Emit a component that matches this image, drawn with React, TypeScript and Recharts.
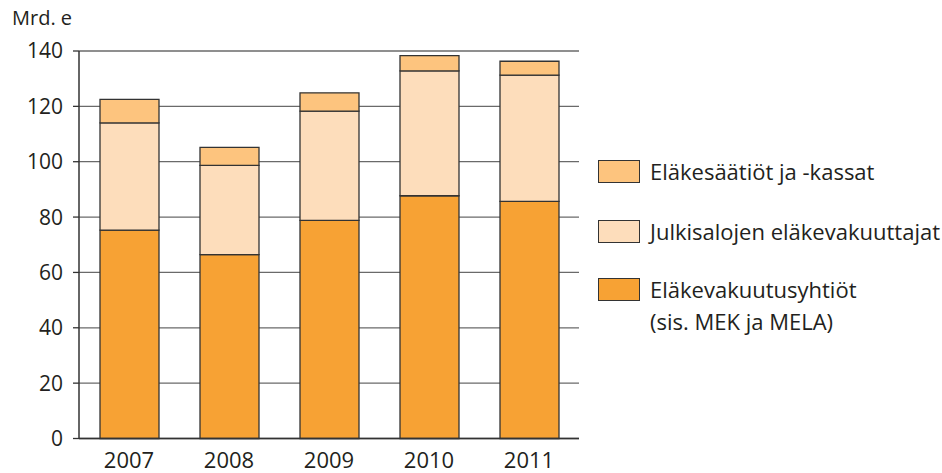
import React from 'react';
import { BarChart, Bar, XAxis, YAxis, CartesianGrid } from 'recharts';

const years = ['2007', '2008', '2009', '2010', '2011'];
const elakevakuutusyhtiot = [75.3, 66.4, 78.8, 87.7, 85.7];
const julkisalojen = [38.7, 32.3, 39.5, 45.1, 45.6];
const elakesaatiot = [8.5, 6.5, 6.6, 5.5, 5.0];
const yTicks = [0, 20, 40, 60, 80, 100, 120, 140];
const unitLabel = 'Mrd. e';

const seriesNames = {
  tyel: 'Eläkevakuutusyhtiöt',
  tyelSub: '(sis. MEK ja MELA)',
  julk: 'Julkisalojen eläkevakuuttajat',
  saat: 'Eläkesäätiöt ja -kassat',
};

const colors = {
  tyel: '#F7A234',
  julk: '#FDDDBB',
  saat: '#FDC47E',
};

const data = years.map((y, i) => ({
  year: y,
  tyel: elakevakuutusyhtiot[i],
  julk: julkisalojen[i],
  saat: elakesaatiot[i],
}));

const FONT = '"Open Sans", sans-serif';
const TEXT = '#231f20';
const STROKE = '#333333';

const legendItems = [
  { key: 'saat', lines: [seriesNames.saat], top: 160 },
  { key: 'julk', lines: [seriesNames.julk], top: 220 },
  { key: 'tyel', lines: [seriesNames.tyel, seriesNames.tyelSub], top: 278 },
];

export default function App() {
  return (
    <div style={{ position: 'absolute', left: 0, top: 0, width: 942, height: 473, background: '#fff', fontFamily: FONT }}>
      <div style={{ position: 'absolute', left: 12, top: 4, fontSize: 20, color: TEXT, lineHeight: '28px' }}>{unitLabel}</div>
      <BarChart
        width={942}
        height={473}
        data={data}
        margin={{ top: 51, right: 363, bottom: 0, left: 0 }}
        barSize={59}
      >
        <CartesianGrid vertical={false} stroke="#6a6a6a" strokeWidth={1.3} />
        <XAxis
          dataKey="year"
          height={34.5}
          tickLine={false}
          axisLine={{ stroke: STROKE, strokeWidth: 1.5 }}
          tickSize={6}
          tickMargin={8}
          tick={{ fill: TEXT, fontSize: 22, fontFamily: FONT }}
        />
        <YAxis
          width={79}
          domain={[0, 140]}
          ticks={yTicks}
          interval={0}
          tickSize={6}
          tickMargin={10}
          tickLine={{ stroke: STROKE, strokeWidth: 1.3 }}
          axisLine={{ stroke: STROKE, strokeWidth: 1.5 }}
          tick={{ fill: TEXT, fontSize: 21, fontFamily: FONT }}
        />
        <YAxis
          yAxisId="right"
          orientation="right"
          width={0}
          domain={[0, 140]}
          tick={false}
          tickLine={false}
          axisLine={{ stroke: '#777777', strokeWidth: 1.8 }}
        />
        <Bar dataKey="tyel" stackId="a" fill={colors.tyel} stroke={STROKE} strokeWidth={1.3} isAnimationActive={false} />
        <Bar dataKey="julk" stackId="a" fill={colors.julk} stroke={STROKE} strokeWidth={1.3} isAnimationActive={false} />
        <Bar dataKey="saat" stackId="a" fill={colors.saat} stroke={STROKE} strokeWidth={1.3} isAnimationActive={false} />
      </BarChart>
      {legendItems.map((it) => (
        <div key={it.key} style={{ position: 'absolute', left: 598, top: it.top }}>
          <div style={{ position: 'absolute', left: 0, top: 0, width: 40, height: 21, background: (colors as any)[it.key], border: `1.5px solid ${STROKE}` }} />
          <div style={{ position: 'absolute', left: 52, top: -5, fontSize: 22, lineHeight: '32px', color: TEXT, whiteSpace: 'nowrap' }}>
            {it.lines.map((l, i) => (
              <div key={i}>{l}</div>
            ))}
          </div>
        </div>
      ))}
    </div>
  );
}
